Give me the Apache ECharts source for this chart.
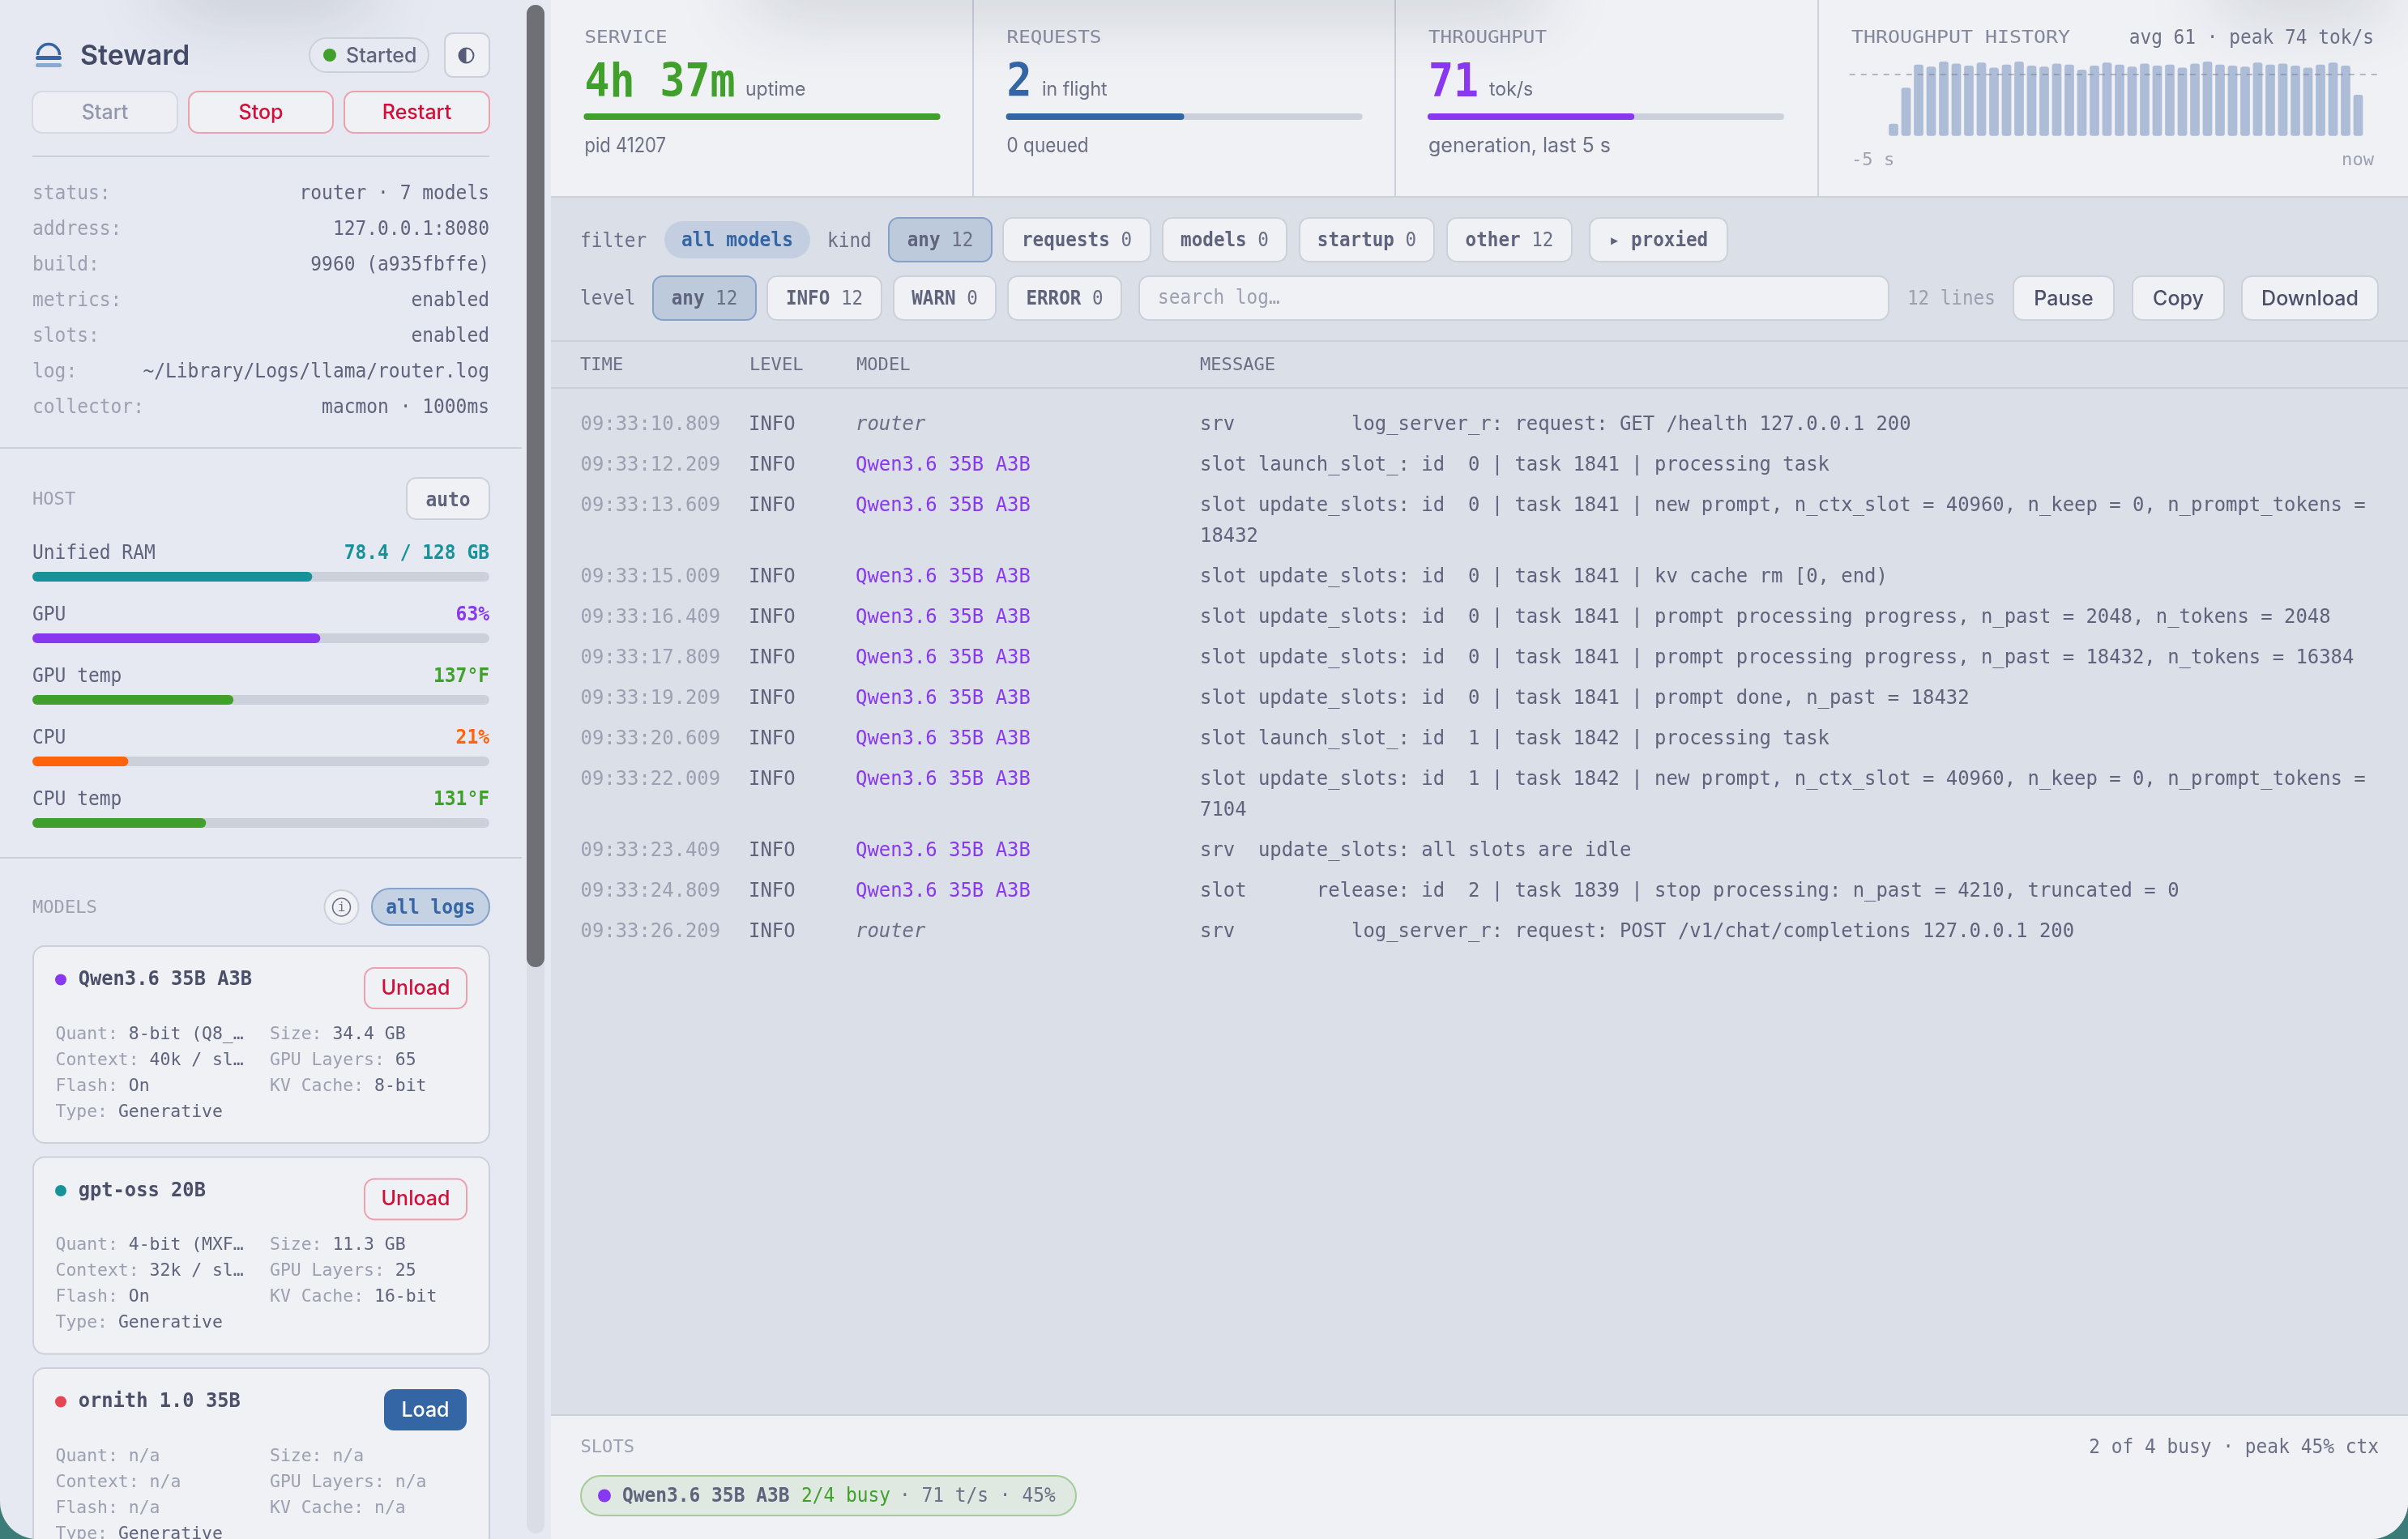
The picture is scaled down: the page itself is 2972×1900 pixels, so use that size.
<!DOCTYPE html>
<html>
<head>
<meta charset="utf-8">
<title>Steward</title>
<script src="https://cdn.jsdelivr.net/npm/echarts@6/dist/echarts.min.js"></script>
<style>
  html, body { margin: 0; padding: 0; background: #3b7c78; overflow: hidden; }
  #chart { width: 2972px; height: 1900px; }
</style>
</head>
<body>
<div id="chart"></div>
<script>
// ---- data ----
var infoLabels = ['status:', 'address:', 'build:', 'metrics:', 'slots:', 'log:', 'collector:'];
var infoValues = ['router · 7 models', '127.0.0.1:8080', '9960 (a935fbffe)', 'enabled', 'enabled', '~/Library/Logs/llama/router.log', 'macmon · 1000ms'];

var hostNames = ['Unified RAM', 'GPU', 'GPU temp', 'CPU', 'CPU temp'];
var hostReadouts = ['78.4 / 128 GB', '63%', '137°F', '21%', '131°F'];
var hostPercents = [61.25, 63, 44, 21, 38];

var modelNames = ['Qwen3.6 35B A3B', 'gpt-oss 20B', 'ornith 1.0 35B'];
var modelActions = ['Unload', 'Unload', 'Load'];
var modelLeftKeys = ['Quant:', 'Context:', 'Flash:', 'Type:'];
var modelRightKeys = ['Size:', 'GPU Layers:', 'KV Cache:'];
var modelLeftValues = [
  ['8-bit (Q8_…', '40k / sl…', 'On', 'Generative'],
  ['4-bit (MXF…', '32k / sl…', 'On', 'Generative'],
  ['n/a', 'n/a', 'n/a', 'Generative']
];
var modelRightValues = [
  ['34.4 GB', '65', '8-bit'],
  ['11.3 GB', '25', '16-bit'],
  ['n/a', 'n/a', 'n/a']
];

var tileTitles = ['SERVICE', 'REQUESTS', 'THROUGHPUT'];
var tileBig = ['4h 37m', '2', '71'];
var tileUnits = ['uptime', 'in flight', 'tok/s'];
var tileNotes = ['pid 41207', '0 queued', 'generation, last 5 s'];
var tilePercents = [100, 50, 58];

// tok/s samples, one per slot of the sparkline
var throughputHistory = [0, 0, 0, 12, 48, 71, 69, 74, 72, 70, 73, 68, 71, 74, 70, 69, 72, 71, 66, 70, 73, 71, 69, 72, 70,
  71, 68, 72, 74, 71, 70, 69, 73, 71, 72, 70, 68, 71, 73, 70, 41, 0];
var throughputAvg = 61.6;

var kindLabels = ['any', 'requests', 'models', 'startup', 'other'];
var kindCounts = ['12', '0', '0', '0', '12'];
var levelLabels = ['any', 'INFO', 'WARN', 'ERROR'];
var levelCounts = ['12', '12', '0', '0'];

var logTimes = ['09:33:10.809', '09:33:12.209', '09:33:13.609', '09:33:15.009', '09:33:16.409', '09:33:17.809',
  '09:33:19.209', '09:33:20.609', '09:33:22.009', '09:33:23.409', '09:33:24.809', '09:33:26.209'];
var logModels = ['router', 'Qwen3.6 35B A3B', 'Qwen3.6 35B A3B', 'Qwen3.6 35B A3B', 'Qwen3.6 35B A3B', 'Qwen3.6 35B A3B',
  'Qwen3.6 35B A3B', 'Qwen3.6 35B A3B', 'Qwen3.6 35B A3B', 'Qwen3.6 35B A3B', 'Qwen3.6 35B A3B', 'router'];
var logMessages = [
  'srv          log_server_r: request: GET /health 127.0.0.1 200',
  'slot launch_slot_: id  0 | task 1841 | processing task',
  'slot update_slots: id  0 | task 1841 | new prompt, n_ctx_slot = 40960, n_keep = 0, n_prompt_tokens =\n18432',
  'slot update_slots: id  0 | task 1841 | kv cache rm [0, end)',
  'slot update_slots: id  0 | task 1841 | prompt processing progress, n_past = 2048, n_tokens = 2048',
  'slot update_slots: id  0 | task 1841 | prompt processing progress, n_past = 18432, n_tokens = 16384',
  'slot update_slots: id  0 | task 1841 | prompt done, n_past = 18432',
  'slot launch_slot_: id  1 | task 1842 | processing task',
  'slot update_slots: id  1 | task 1842 | new prompt, n_ctx_slot = 40960, n_keep = 0, n_prompt_tokens =\n7104',
  'srv  update_slots: all slots are idle',
  'slot      release: id  2 | task 1839 | stop processing: n_past = 4210, truncated = 0',
  'srv          log_server_r: request: POST /v1/chat/completions 127.0.0.1 200'
];

// ---- palette ----
var RED = '#d20f39', BLUE = '#3465a4', GREEN = '#40a02b', MAUVE = '#8839ef', TEAL = '#179299', PEACH = '#fe640b';
var BASE = '#eff1f5', MANTLE = '#e6e9f1', CRUST = '#dbdfe8', LINE = '#ccd0da';
var TEXT = '#4c4f69', SUB = '#5f637c', MUTED = '#6c6f85', TITLE = '#85889c', FAINT = '#9ca0b0';
var MONO = '"DejaVu Sans Mono", monospace', SANS = 'Inter, "Noto Sans", sans-serif';
var hostColors = [TEAL, MAUVE, GREEN, PEACH, GREEN];
var modelColors = [MAUVE, TEAL, '#e64553'];
var tileColors = [GREEN, BLUE, MAUVE];

var g = [];

function box(x0, y0, x1, y1, r, fill, stroke, lw) {
  g.push({ type: 'rect', silent: true, shape: { x: x0, y: y0, width: x1 - x0, height: y1 - y0, r: r },
    style: { fill: fill, stroke: stroke || null, lineWidth: lw || 0 } });
}
function hline(x0, x1, y) {
  box(x0, y - 1, x1, y + 1, 0, LINE);
}
function txt(x, y, s, font, size, color, o) {
  o = o || {};
  g.push({ type: 'text', silent: true, x: x, y: y + 2, scaleX: o.sx || 1,
    style: { text: s, fill: color, fontFamily: font, fontSize: size, fontWeight: o.w || 400, fontStyle: o.it ? 'italic' : 'normal',
      align: o.a || 'left', textAlign: o.a || 'left', verticalAlign: 'middle', textVerticalAlign: 'middle' } });
}
// mono text squeezed to the advance width of the reference's font
function mono(x, y, s, size, cw, color, o) {
  o = o || {};
  var fs = size * 1.04;
  o.sx = cw / (fs * 0.602);
  txt(x, y, s, MONO, fs, color, o);
}
function sans(x, y, s, size, color, o) {
  txt(x, y, s, SANS, size, color, o);
}
function button(x0, y0, x1, y1, s, color, border, fill) {
  box(x0, y0, x1, y1, 12, fill || BASE, border || LINE, 2);
  sans((x0 + x1) / 2, (y0 + y1) / 2 - 1, s, 25, color, { a: 'center', w: 500 });
}
function chip(x0, x1, y0, y1, label, count, active) {
  box(x0, y0, x1, y1, 12, active ? '#bccadc' : BASE, active ? '#85a1c8' : LINE, 2);
  var cw = 13.6, n = label.length + count.length + 1, sx = (x0 + x1) / 2 - n * cw / 2, cy = (y0 + y1) / 2;
  mono(sx, cy, label, 23, cw, SUB, { w: 700 });
  mono(sx + (label.length + 1) * cw, cy, count, 23, cw, MUTED);
}

// ---- chrome ----
box(0, 0, 2972, 1900, [0, 0, 46, 46], MANTLE);
box(680, 0, 2972, 1900, [0, 0, 46, 0], CRUST);
box(680, 0, 2972, 243, 0, BASE);
box(680, 1747, 2972, 1900, [0, 0, 46, 0], BASE);
hline(680, 2972, 243);
hline(680, 2972, 1747);
box(1200, 0, 1202, 243, 0, LINE);
box(1721, 0, 1723, 243, 0, LINE);
box(2243, 0, 2245, 243, 0, LINE);

// soft shadow bleeding in from above the window
[[210, 450], [930, 1900], [2740, 2940]].forEach(function (s) {
  g.push({ type: 'rect', silent: true, shape: { x: s[0], y: -34, width: s[1] - s[0], height: 30 },
    style: { fill: '#999', shadowBlur: 90, shadowColor: 'rgba(40,44,60,0.38)' } });
});

// scrollbar
box(650, 6, 672, 1893, 11, '#dadde6');
box(650, 6, 672, 1194, 11, '#6e7075');

// ---- sidebar header ----
g.push({ type: 'arc', silent: true, shape: { cx: 60, cy: 68, r: 13.5, startAngle: Math.PI, endAngle: 0 },
  style: { stroke: BLUE, fill: null, lineWidth: 3.5 } });
box(44, 69, 76, 74, 2.5, BLUE);
box(44, 78, 76, 83, 2.5, '#8ba8cf');
sans(99, 68, 'Steward', 34, '#434a66', { w: 600 });
box(382, 47, 529, 89, 21, MANTLE, LINE, 2);
g.push({ type: 'circle', silent: true, shape: { cx: 407, cy: 68, r: 8 }, style: { fill: GREEN } });
sans(427, 67, 'Started', 25, SUB, { w: 500 });
box(549, 41, 604, 95, 10, BASE, LINE, 2);
g.push({ type: 'circle', silent: true, shape: { cx: 575.5, cy: 68.5, r: 9 }, style: { fill: BASE, stroke: '#565b78', lineWidth: 2 } });
g.push({ type: 'sector', silent: true, shape: { cx: 575.5, cy: 68.5, r: 9, r0: 0, startAngle: Math.PI / 2, endAngle: Math.PI * 1.5 }, style: { fill: '#565b78' } });

button(40, 113, 219, 164, 'Start', '#9497ab', '#d6d9e2', '#edeff4');
button(233, 113, 411, 164, 'Stop', RED, '#eda0ae');
button(425, 113, 604, 164, 'Restart', RED, '#eda0ae');
hline(40, 604, 193);

infoLabels.forEach(function (l, i) {
  var y = 238 + i * 44;
  mono(40, y, l, 23, 13.8, FAINT);
  mono(604, y, infoValues[i], 23, 13.8, SUB, { a: 'right' });
});
hline(0, 644, 553);

// ---- host ----
mono(40, 616, 'HOST', 20, 13.3, FAINT);
box(502, 590, 604, 641, 12, BASE, LINE, 2);
mono(553, 617, 'auto', 23, 13.8, SUB, { a: 'center', w: 700 });
hostNames.forEach(function (l, i) {
  var y = 681.5 + i * 76;
  mono(40, y, l, 23, 13.8, SUB);
  mono(604, y, hostReadouts[i], 23, 13.8, hostColors[i], { a: 'right', w: 700 });
});
hline(0, 644, 1059);

// ---- models ----
mono(40, 1120, 'MODELS', 20, 13.3, FAINT);
g.push({ type: 'circle', silent: true, shape: { cx: 421.5, cy: 1120, r: 21 }, style: { fill: BASE, stroke: LINE, lineWidth: 2 } });
g.push({ type: 'circle', silent: true, shape: { cx: 421.5, cy: 1120, r: 11 }, style: { fill: null, stroke: MUTED, lineWidth: 1.5 } });
mono(421.5, 1119, 'i', 16, 9.6, MUTED, { a: 'center' });
box(459, 1097, 604, 1142, 22, '#c5d2e3', '#86a3ca', 2);
mono(531.5, 1120, 'all logs', 23, 13.8, BLUE, { a: 'center', w: 700 });

modelNames.forEach(function (name, m) {
  var top = 1168 + m * 260.5;
  box(41, top, 604, top + 243, 14, BASE, LINE, 2);
  g.push({ type: 'circle', silent: true, shape: { cx: 75, cy: top + 41.5, r: 7 }, style: { fill: modelColors[m] } });
  mono(96.7, top + 40, name, 23, 14.3, TEXT, { w: 700 });
  if (modelActions[m] === 'Load') {
    box(474, top + 26, 576, top + 77, 12, BLUE);
    sans(525, top + 50, 'Load', 25, '#ffffff', { a: 'center', w: 500 });
  } else {
    box(450, top + 27, 576, top + 77, 12, BASE, '#eda0ae', 2);
    sans(513, top + 50, modelActions[m], 25, RED, { a: 'center', w: 500 });
  }
  var cw = 12.9, rowY = function (r) { return top + 107 + r * 32; };
  modelLeftKeys.forEach(function (k, r) {
    var v = modelLeftValues[m][r];
    mono(68.5, rowY(r), k, 21, cw, FAINT);
    mono(68.5 + (k.length + 1) * cw, rowY(r), v, 21, cw, v === 'n/a' ? FAINT : SUB);
  });
  modelRightKeys.forEach(function (k, r) {
    var v = modelRightValues[m][r];
    mono(333, rowY(r), k, 21, cw, FAINT);
    mono(333 + (k.length + 1) * cw, rowY(r), v, 21, cw, v === 'n/a' ? FAINT : SUB);
  });
});

// ---- tiles ----
var tileX = [721.5, 1242.6, 1763];
var noteSqueeze = [0.88, 0.9, 1];
var unitX = [920, 1286, 1838];
tileTitles.forEach(function (t, i) {
  var x = tileX[i];
  mono(x, 46, t, 20, 14.6, TITLE);
  mono(x, 102, tileBig[i], 54, 31, tileColors[i], { w: 700 });
  sans(unitX[i], 109, tileUnits[i], 24, MUTED, { sx: 0.96 });
  sans(x, 178, tileNotes[i], 25, MUTED, { sx: noteSqueeze[i] });
});
mono(2285, 46, 'THROUGHPUT HISTORY', 20, 15, TITLE);
mono(2930, 46, 'avg 61 · peak 74 tok/s', 23, 13.75, MUTED, { a: 'right' });
mono(2285, 197, '-5 s', 20, 13.3, FAINT);
mono(2930, 197, 'now', 20, 13.3, FAINT, { a: 'right' });

// ---- filter rows ----
var kindEdges = [[1097, 1224], [1238, 1420], [1435, 1588], [1604, 1770], [1786, 1940]];
var levelEdges = [[806, 933], [947, 1088], [1103, 1229], [1244, 1384]];
mono(716, 297, 'filter', 23, 13.7, MUTED);
box(820, 273, 1000, 319, 23, '#c3cee0');
mono(910, 296, 'all models', 23, 13.8, BLUE, { a: 'center', w: 700 });
mono(1021, 297, 'kind', 23, 13.7, MUTED);
kindLabels.forEach(function (l, i) { chip(kindEdges[i][0], kindEdges[i][1], 269, 323, l, kindCounts[i], i === 0); });
box(1962, 269, 2132, 323, 12, BASE, LINE, 2);
mono(2047, 296, '▸ proxied', 23, 13.6, SUB, { a: 'center', w: 700 });

mono(716, 368, 'level', 23, 13.7, MUTED);
levelLabels.forEach(function (l, i) { chip(levelEdges[i][0], levelEdges[i][1], 341, 395, l, levelCounts[i], i === 0); });
box(1406, 341, 2331, 395, 12, BASE, LINE, 2);
mono(1429, 367, 'search log…', 23, 13.7, FAINT);
mono(2354, 368, '12 lines', 23, 13.6, FAINT);
button(2485, 341, 2609, 395, 'Pause', TEXT, LINE);
button(2632, 341, 2745, 395, 'Copy', TEXT, LINE);
button(2767, 341, 2935, 395, 'Download', TEXT, LINE);

// ---- log table ----
hline(680, 2972, 421);
hline(680, 2972, 479);
['TIME', 'LEVEL', 'MODEL', 'MESSAGE'].forEach(function (h, i) {
  mono([716, 925, 1057, 1481][i], 450, h, 20, 13.3, MUTED);
});
var rowY = 523;
logTimes.forEach(function (t, i) {
  var lines = logMessages[i].split('\n');
  mono(716.5, rowY, t, 24, 14.39, FAINT);
  mono(924, rowY, 'INFO', 24, 14.39, SUB);
  if (logModels[i] === 'router') mono(1056, rowY, logModels[i], 24, 14.39, MUTED, { it: true });
  else mono(1056, rowY, logModels[i], 24, 14.39, MAUVE);
  lines.forEach(function (line, k) {
    mono(1481, rowY + k * 38, line, 24, 14.39, SUB);
  });
  rowY += 50 + (lines.length - 1) * 38;
});

// ---- slots ----
mono(716.5, 1786, 'SLOTS', 20, 13.3, FAINT);
mono(2936, 1786, '2 of 4 busy · peak 45% ctx', 23, 13.77, MUTED, { a: 'right' });
box(717, 1822, 1328, 1871, 25, '#dfe9e2', '#a3cc98', 2);
g.push({ type: 'circle', silent: true, shape: { cx: 746, cy: 1846.5, r: 8 }, style: { fill: MAUVE } });
mono(768, 1846, 'Qwen3.6 35B A3B', 23, 13.77, SUB, { w: 700 });
mono(989, 1846, '2/4 busy', 23, 13.77, GREEN);
mono(1110, 1846, '· 71 t/s · 45%', 23, 13.77, MUTED);

// ---- marks: every gauge is its own small grid, the sparkline is one more ----
var grids = [], xAxes = [], yAxes = [], series = [];

function gauge(x0, x1, yTop, h, value, color) {
  var i = grids.length;
  grids.push({ left: x0, top: yTop, width: x1 - x0, height: h });
  xAxes.push({ gridIndex: i, type: 'value', min: 0, max: 100, show: false });
  yAxes.push({ gridIndex: i, type: 'category', data: [''], show: false });
  series.push({
    type: 'bar', xAxisIndex: i, yAxisIndex: i, data: [value], barWidth: h, silent: true, animation: false,
    showBackground: true, backgroundStyle: { color: LINE, borderRadius: h / 2 },
    itemStyle: { color: color, borderRadius: h / 2 }
  });
}
hostPercents.forEach(function (p, i) { gauge(40, 604, 706 + i * 76, 12, p, hostColors[i]); });
tilePercents.forEach(function (p, i) { gauge(tileX[i] - 1, tileX[i] + 439, 140, 8, p, tileColors[i]); });

var hi = grids.length;
grids.push({ left: 2282.75, top: 68.6, width: 651, height: 99.1 });
xAxes.push({ gridIndex: hi, type: 'category', show: false, data: throughputHistory.map(function (v, i) { return i; }) });
yAxes.push({ gridIndex: hi, type: 'value', min: 0, max: 80, show: false });
series.push({
  type: 'bar', xAxisIndex: hi, yAxisIndex: hi, data: throughputHistory, barWidth: 11.7, silent: true, animation: false,
  itemStyle: { color: '#adbcd7', borderRadius: 3 },
  markLine: {
    silent: true, symbol: 'none', animation: false, label: { show: false },
    lineStyle: { type: [7, 7], color: 'rgba(120,125,145,0.5)', width: 2 },
    data: [{ yAxis: throughputAvg }]
  }
});

var chart = echarts.init(document.getElementById('chart'), null, { width: 2972, height: 1900, devicePixelRatio: 1 });
chart.setOption({
  animation: false,
  backgroundColor: 'transparent',
  grid: grids,
  xAxis: xAxes,
  yAxis: yAxes,
  series: series,
  graphic: { elements: g }
});
</script>
</body>
</html>
